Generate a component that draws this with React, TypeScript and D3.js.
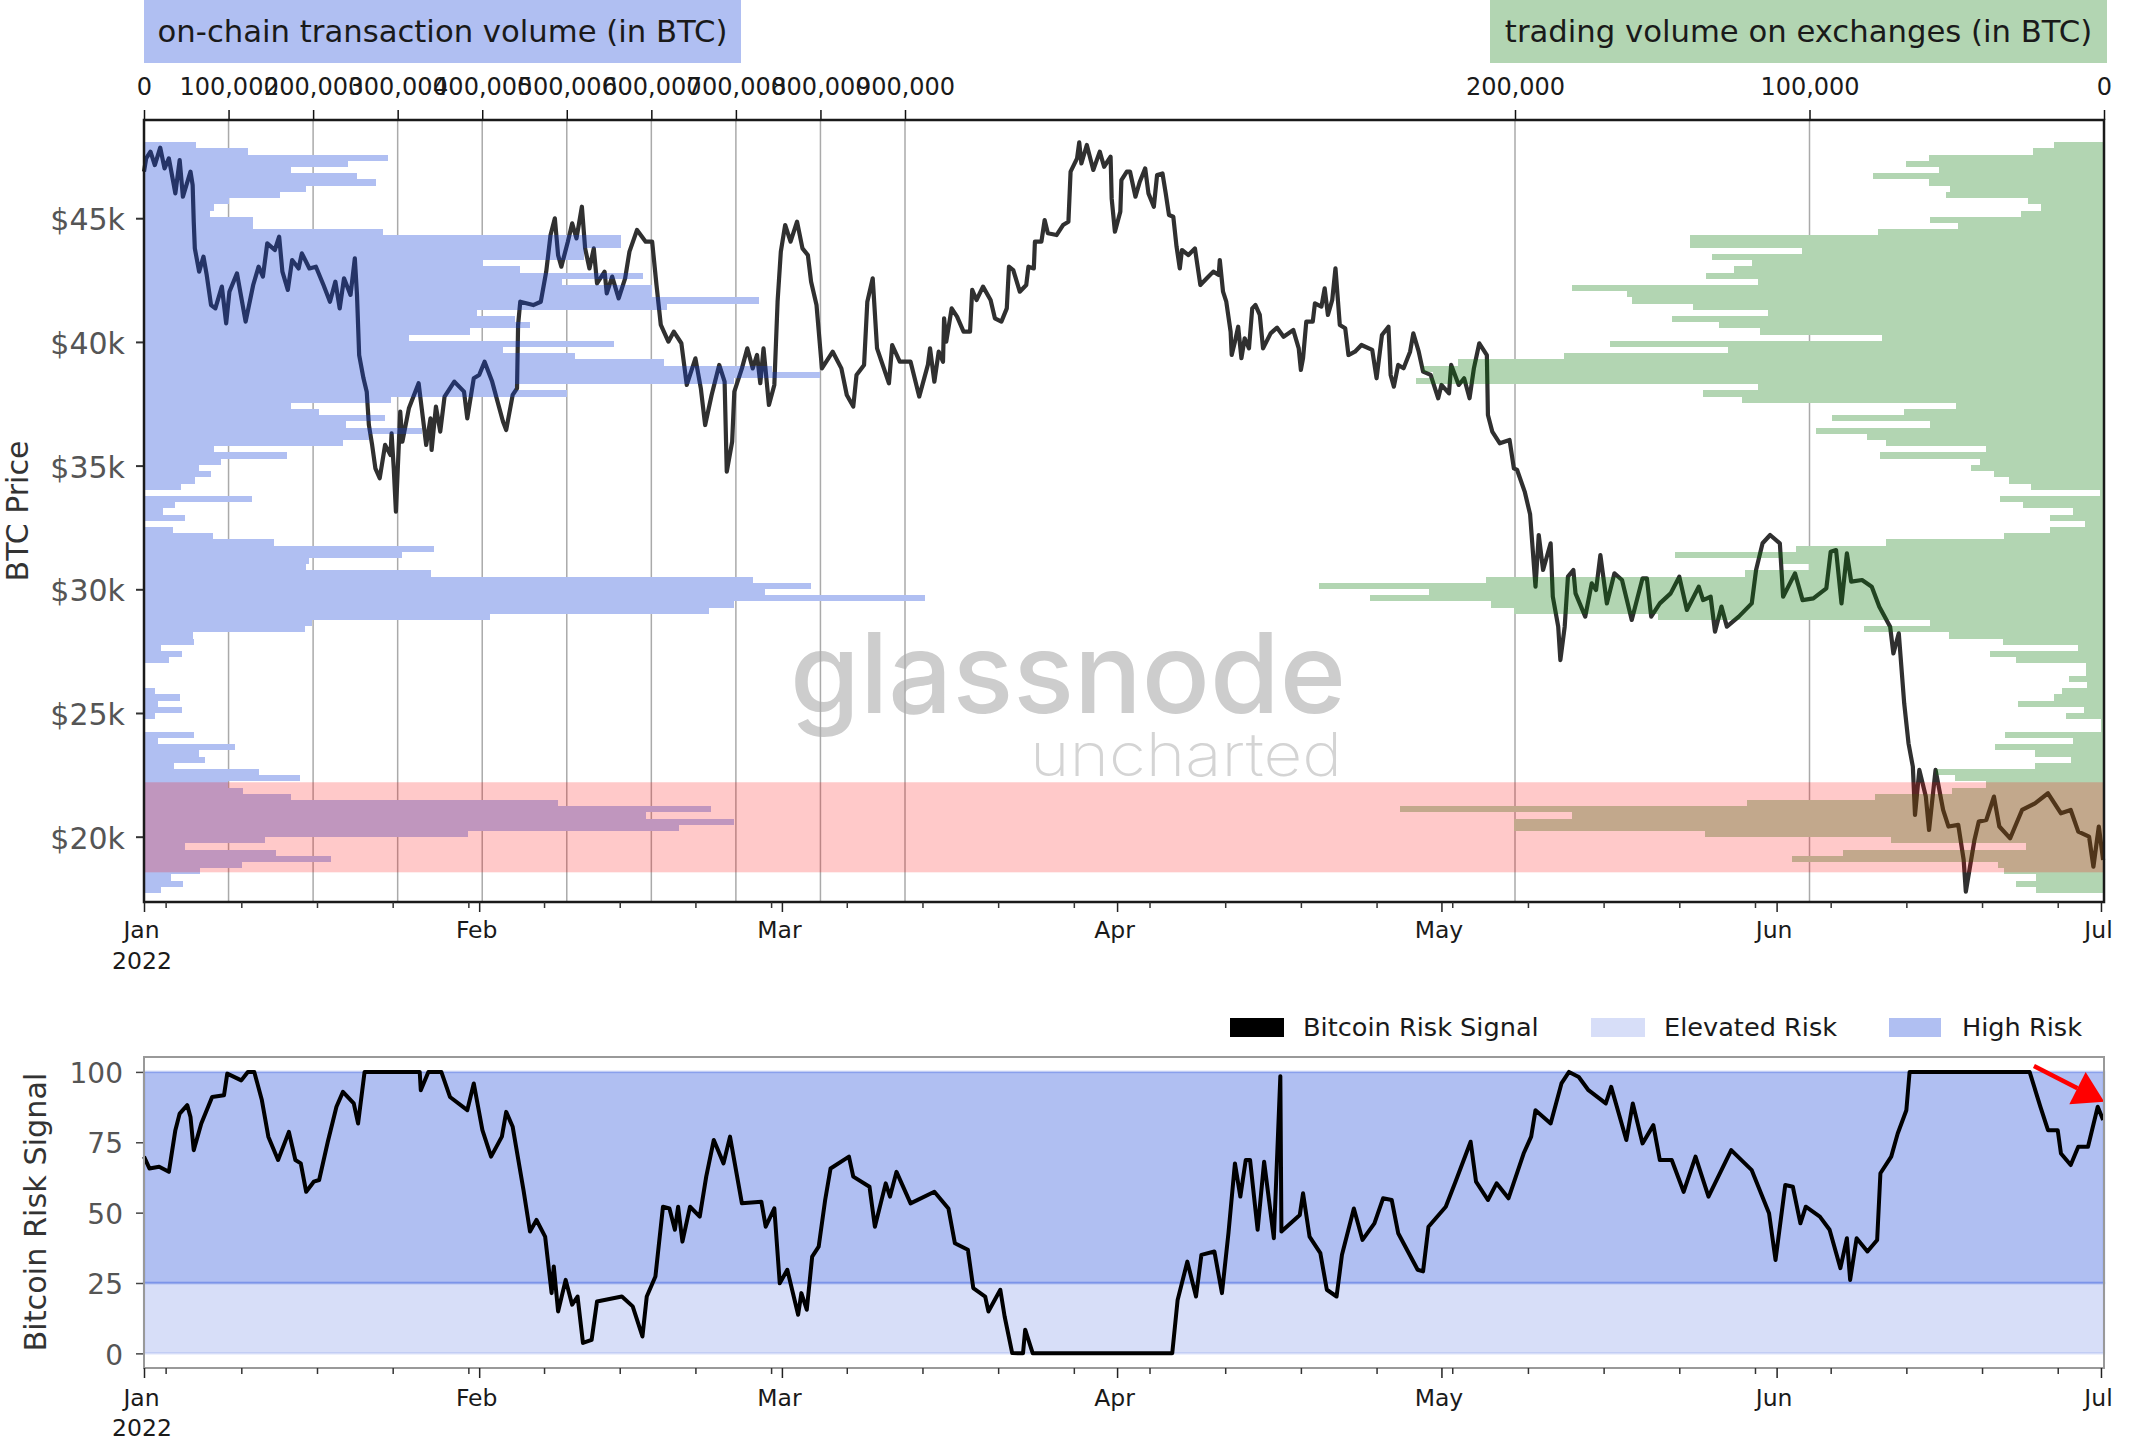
import * as d3 from "d3";
import React, { useEffect, useRef } from "react";

// volume profile bins, read top to bottom
const onChainVolume = [
  61500, 123000, 288800, 241200, 173700, 251500, 273800, 191800, 160400, 100100,
  82600, 77800, 129000, 129000, 282200, 563800, 563800, 519800, 519800, 400400,
  444400, 590300, 494500, 601200, 601200, 727800, 618100, 394400, 438400, 456500,
  385900, 313000, 556000, 424500, 509500, 614500, 742900, 799000, 697700, 438400,
  499900, 291900, 173700, 207400, 284600, 238800, 328600, 266500, 235200, 82600,
  168800, 90500, 65100, 79600, 60300, 43400, 1200, 127800, 36200, 22300,
  48200, 800, 34400, 81400, 153800, 343100, 305700, 195400, 191200, 338900,
  720600, 788700, 734500, 923800, 697700, 668700, 408800, 198400, 190500, 58500,
  59700, 20500, 44600, 29500, 1200, 1200, 1200, 1200, 13300, 42200,
  16300, 44600, 13300, 800, 800, 59700, 16300, 107900, 64500, 72400,
  35600, 136300, 184500, 98900, 117000, 173700, 489600, 670500, 593400, 697700,
  633200, 382900, 142900, 48200, 156200, 221300, 116400, 66300, 31400, 46400,
  20500,
];

const exchangeVolume = [
  17000, 24000, 59500, 67200, 56100, 78300, 59500, 52300, 53800, 25700,
  21400, 28300, 59000, 49600, 76600, 140600, 140600, 102600, 133200, 119400,
  125500, 135100, 117500, 180700, 162000, 160200, 139400, 114200, 146700, 130700,
  116800, 75500, 167700, 127600, 183300, 219300, 231100, 227900, 233700, 117500,
  136300, 122900, 50200, 67900, 92200, 59000, 97700, 80400, 74000, 40100,
  75900, 42200, 45100, 37300, 32300, 24800, 1400, 35200, 27400, 10600,
  18200, 6600, 18200, 33900, 74000, 104700, 145800, 109500, 100300, 122000,
  209700, 266500, 229300, 249300, 208000, 200200, 151600, 59000, 81600, 52600,
  34400, 8900, 38700, 30000, 6100, 6100, 11800, 5700, 14100, 17000,
  29200, 6900, 13000, 900, 900, 33500, 10600, 37000, 23400, 11300,
  23400, 56900, 50500, 40100, 51700, 77800, 121200, 239200, 180700, 200200,
  200200, 135600, 72200, 26600, 88500, 106100, 36100, 33900, 23100, 30000,
  23100,
];

const binTop = 48070;
const binSize = 250.8;

// days since 2022-01-01
const priceDays = [
  0, 0.2, 0.6, 1, 1.5, 1.9, 2.3, 2.7, 2.9, 3.3, 3.6, 4.3, 4.5, 4.6, 4.7, 5.1, 5.5, 5.8, 6.2, 6.6,
  7.2, 7.6, 7.9, 8.6, 9.4, 10.1, 10.6, 11, 11.4, 12.1, 12.5, 12.8, 13.3, 13.7, 14.3, 14.6, 15.3, 15.9, 16.6, 17.2,
  17.7, 18.1, 18.5, 19.1, 19.5, 19.7, 19.9, 20.3, 20.6, 20.8, 21.1, 21.4, 21.8, 22.3, 22.8, 22.9, 23.1, 23.3, 23.7, 23.9,
  24.5, 25.4, 25.8, 26.1, 26.5, 26.6, 27, 27.4, 27.8, 28.7, 29.6, 29.9, 30.5, 31, 31.5, 32.2, 32.7, 33.2, 33.5, 34.1,
  34.5, 34.6, 34.8, 36, 36.7, 37.2, 37.6, 38, 38.3, 38.6, 39.2, 39.6, 40, 40.5, 40.8, 41.2, 41.6, 41.9, 42.6, 42.8,
  43.3, 43.9, 44.5, 44.9, 45.6, 46.4, 47, 47.4, 47.8, 48.5, 49, 49.7, 50.2, 51, 51.5, 51.9, 52.5, 53.2, 53.7, 53.9,
  54.4, 54.6, 55.3, 55.8, 56.3, 56.7, 57, 57.3, 57.8, 58.3, 58.6, 58.9, 59.3, 59.8, 60.4, 60.9, 61.4, 61.7, 62.2, 62.7,
  63.7, 64.5, 65, 65.6, 65.9, 66.6, 66.9, 67.4, 67.8, 68.9, 69.2, 69.9, 70.9, 71.7, 72.5, 72.7, 73.1, 73.5, 73.9, 74,
  74.2, 74.7, 75.2, 75.8, 76.4, 76.6, 77, 77.6, 78.3, 78.7, 79.3, 79.8, 80, 80.4, 81, 81.6, 81.8, 82.3, 82.4, 83,
  83.3, 83.6, 84.4, 85, 85.5, 85.7, 86.3, 86.5, 86.7, 87.2, 87.8, 88.4, 88.8, 89.4, 89.5, 89.8, 90.3, 90.4, 90.9, 91.2,
  91.7, 92.1, 92.6, 92.9, 93.4, 93.7, 94.2, 94.5, 94.8, 95.2, 95.5, 95.8, 96, 96.6, 97.2, 97.7, 98.3, 98.9, 99.4, 99.5,
  99.8, 100.1, 100.5, 100.6, 100.9, 101.2, 101.5, 101.8, 102.2, 102.5, 102.8, 103.2, 103.5, 104.2, 104.8, 105.4, 106.3, 106.8, 107, 107.2,
  107.5, 108.1, 108.3, 108.9, 109.2, 109.5, 109.9, 110.2, 110.6, 111.1, 111.4, 112, 112.6, 113.6, 114, 114.5, 115.1, 115.3, 115.6, 116,
  116.5, 117.1, 117.4, 117.9, 118.3, 119, 119.7, 120, 120.7, 120.9, 121.6, 122.1, 122.6, 123, 123.5, 124.2, 124.3, 124.7, 125.4, 126.3,
  126.7, 127, 127.7, 128.2, 128.4, 128.7, 129, 129.4, 130.1, 130.3, 130.8, 131, 131.4, 131.7, 132.2, 132.4, 133.3, 133.9, 134.3, 134.7,
  135.3, 136, 136.7, 137.6, 138.6, 139, 139.4, 140.2, 141.2, 142, 142.7, 143.8, 144.2, 144.9, 145.3, 145.9, 146.4, 147.5, 148.7, 149.1,
  149.7, 150.4, 151.3, 151.6, 152.7, 153.4, 154.4, 155.6, 156, 156.5, 157, 157.5, 157.9, 158.9, 159.8, 160.5, 161.5, 161.8, 162.3, 162.8,
  163.2, 163.6, 163.8, 164.2, 164.8, 165.1, 165.7, 166.4, 166.9, 167.8, 168.3, 168.5, 169.3, 169.7, 170.4, 171.1, 171.6, 172.6, 173.7, 174.9,
  176.1, 177.3, 178.2, 178.9, 179.9, 180.3, 180.8, 181.2,
];

const priceValues = [
  46880, 47420, 47690, 47150, 47850, 47015, 47420, 46480, 46005, 47350, 45870, 46880, 46340, 44860, 43780, 42840, 43445, 42705, 41490, 41355,
  42235, 40750, 42030, 42770, 40820, 42300, 43040, 42640, 43985, 43715, 44255, 42840, 42100, 43310, 42970, 43580, 42970, 43040, 42300, 41625,
  42435, 41355, 42570, 41900, 43380, 41900, 39470, 38530, 37990, 36640, 35835, 34890, 34490, 35835, 35430, 36305, 34890, 33140, 37180, 35970,
  37315, 38330, 36910, 35835, 36910, 35630, 37385, 36375, 37790, 38395, 37990, 36910, 38530, 38665, 39200, 38395, 37585, 36780, 36440, 37855,
  38125, 40685, 41625, 41490, 41625, 42840, 44320, 44995, 43510, 43040, 44050, 44790, 44185, 45465, 43780, 42970, 43780, 42370, 42840, 41965,
  42640, 41760, 42570, 43650, 44525, 44050, 44050, 42300, 40685, 40010, 40415, 39945, 38260, 39335, 38125, 36640, 37855, 39070, 38395, 34755,
  35970, 37990, 38930, 39740, 38930, 39470, 38330, 39740, 37450, 38260, 41625, 43650, 44725, 44050, 44860, 43780, 43510, 42435, 41490, 38930,
  39605, 38930, 37855, 37385, 38665, 39070, 41625, 42570, 39740, 38330, 39875, 39200, 39200, 37790, 39070, 39740, 38395, 39605, 39200, 40955,
  40010, 41355, 41020, 40415, 40415, 42100, 41695, 42235, 41695, 40955, 40820, 41355, 43040, 42905, 42030, 42300, 43040, 42970, 44050, 44050,
  44925, 44390, 44320, 44725, 44860, 46880, 47420, 48065, 47215, 47960, 46950, 47690, 47080, 47485, 45800, 44455, 45265, 46540, 46880, 46880,
  45870, 46475, 47015, 46005, 45465, 46745, 46810, 46005, 45130, 45060, 43850, 42970, 43715, 43510, 43780, 42300, 42570, 42840, 42705, 43310,
  42030, 41625, 40415, 39470, 40010, 40615, 39340, 40145, 39740, 41355, 41490, 41090, 39740, 40345, 40575, 40210, 40480, 39740, 38865, 39340,
  40820, 40820, 41560, 41425, 42165, 41090, 41695, 42975, 40685, 40550, 39470, 39605, 39875, 39675, 38530, 40280, 40615, 38665, 38190, 39070,
  38935, 39605, 40345, 39605, 38800, 38665, 37720, 38260, 37920, 39070, 38260, 38530, 37720, 38930, 39945, 39470, 37045, 36375, 35900, 36035,
  34890, 34825, 33950, 33030, 31860, 30105, 32195, 30780, 31860, 29700, 28490, 27140, 28490, 30510, 30780, 29835, 28895, 30240, 29970, 31385,
  29430, 30645, 30375, 28760, 30445, 30445, 28895, 29430, 29835, 30510, 29165, 30105, 29565, 29700, 28290, 29300, 28490, 28895, 29430, 30780,
  31860, 32195, 31860, 29700, 30645, 29565, 29635, 30040, 31520, 31585, 29430, 31450, 30310, 30375, 30105, 29295, 28490, 27410, 28220, 25390,
  23775, 22830, 20880, 22700, 21620, 20270, 22700, 21080, 20410, 20475, 19060, 17780, 19870, 20610, 20680, 21620, 20410, 19935, 21080, 21350,
  21755, 20945, 21080, 20205, 20000, 18790, 20410, 19060,
];

const riskDays = [
  0, 0.5, 1.4, 2.3, 2.9, 3.3, 4, 4.3, 4.6, 5.3, 6.3, 7.4, 7.7, 9, 9.6, 10.2, 10.9, 11.5, 12.4, 13.4,
  14, 14.5, 15, 15.7, 16.2, 17, 17.8, 18.4, 19.4, 19.8, 20.4, 25.5, 25.6, 26.3, 27.5, 28.3, 29.9, 30.5, 31.3, 32.1,
  33.1, 33.5, 34.1, 35.1, 35.7, 36.3, 37.1, 37.7, 37.9, 38.3, 39, 39.6, 40.1, 40.6, 41.4, 41.9, 44.2, 45.2, 46.1, 46.5,
  47.3, 48, 48.6, 49.1, 49.4, 49.8, 50.5, 51.4, 52, 52.7, 53.6, 54.2, 55.3, 57.1, 57.5, 58.3, 58.8, 59.5, 60.5, 60.8,
  61.3, 61.8, 62.4, 63, 63.5, 65.2, 65.6, 67.1, 67.6, 68.6, 69, 69.6, 70.9, 73.1, 74.4, 75, 76.2, 76.7, 77.8, 78.1,
  79.2, 79.6, 80.3, 81.3, 81.5, 82.2, 95.1, 95.6, 96.5, 97.3, 97.8, 99, 99.7, 100.3, 100.9, 101.4, 101.9, 102.3, 103, 103.6,
  104.5, 105.1, 105.2, 106.9, 107.2, 107.8, 108.8, 109.4, 110.3, 110.8, 111.9, 112.7, 113.8, 114.6, 115.4, 116, 117.8, 118.3, 118.8, 120.4,
  121.3, 122.7, 123.2, 124.3, 125.1, 126.2, 127.6, 128.3, 128.7, 130.1, 131.1, 131.8, 132.7, 133.6, 135.2, 135.7, 137.1, 137.7, 138.6, 139.6,
  140.2, 141.3, 142.4, 143.5, 144.7, 146.8, 148.7, 150.3, 150.9, 151.8, 152.5, 153.2, 153.7, 155, 155.9, 156.9, 157.5, 157.8, 158.4, 159.4,
  160.3, 160.6, 161.6, 162.2, 163, 163.3, 174.4, 175.4, 176.1, 177, 177.3, 178.2, 178.9, 179.8, 180.7, 181.2,
];

const riskValues = [
  69.9, 65.7, 66.3, 64.5, 79.3, 85.2, 88.2, 84, 72.2, 81.7, 91.1, 91.7, 99.4, 97, 100, 100, 90, 77, 68.7, 78.7,
  68.7, 67.5, 57.4, 61, 61.6, 75.2, 87.6, 92.9, 88.8, 81.7, 100, 100, 93.5, 100, 100, 91.1, 86.4, 95.9, 79.3, 69.9,
  77, 85.8, 80.5, 58, 43.3, 47.4, 41.5, 21.4, 30.9, 14.9, 26.1, 17.3, 20.2, 3.7, 4.8, 18.4, 20.2, 16.7, 6, 20.2,
  27.3, 52.1, 51.5, 43.9, 52.1, 39.7, 52.1, 48.6, 62.8, 75.8, 67.5, 77, 53.3, 53.9, 45, 51.5, 24.9, 29.7, 13.7, 21.4,
  15.5, 34.4, 37.9, 54.5, 65.7, 69.9, 62.8, 59.2, 45, 60.4, 55.7, 64.5, 53.3, 57.4, 51.5, 39.1, 36.8, 23.2, 20.2, 14.9,
  22.6, 13.1, 0.1, 0, 8.4, 0, 0, 19, 32.6, 20.2, 35, 36.2, 21.4, 42.7, 67.5, 55.7, 68.7, 68.7, 43.9, 68.1,
  40.9, 98.5, 43.3, 49.2, 56.9, 41.5, 35.6, 22.6, 20.2, 35, 51.5, 40.3, 46.2, 55.1, 54.5, 42.7, 29.7, 29.1, 45, 52.1,
  61, 75.2, 61, 54.5, 60.4, 55.1, 71, 77, 86.4, 81.7, 95.9, 100, 98.2, 93.5, 88.8, 94.7, 75.8, 88.8, 74.6, 81.1,
  68.7, 68.7, 57.4, 69.9, 55.7, 72.2, 65.1, 49.8, 33.2, 59.8, 59.2, 46.2, 52.1, 48.6, 43.9, 30.3, 40.9, 26.1, 40.9, 36.2,
  40.3, 64, 69.9, 78.1, 86.4, 100, 100, 87.6, 79.3, 79.3, 71, 66.9, 73.4, 73.4, 87.6, 82.9,
];

const onChainTicks = [0, 100000, 200000, 300000, 400000, 500000, 600000, 700000, 800000, 900000];
const exchangeTicks = [0, 100000, 200000];
const priceTicks = [20000, 25000, 30000, 35000, 40000, 45000];
const riskTicks = [0, 25, 50, 75, 100];
const lowBand = [18560, 22200];
const legendItems = ["Bitcoin Risk Signal", "Elevated Risk", "High Risk"];

const FONT = "'DejaVu Sans', sans-serif";
const BLUE = "rgb(15,60,215)";
const GREEN = "rgb(0,115,0)";

const dayToDate = (d: number) => new Date(Date.UTC(2022, 0, 1) + d * 864e5);

const App: React.FC = () => {
  const svgRef = useRef<SVGSVGElement>(null);

  useEffect(() => {
    if (!svgRef.current) return;
    const svg = d3.select(svgRef.current);
    svg.selectAll("*").remove();
    svg.style("font-family", FONT);

    const left = 144, right = 2104;
    const top = 120, bottom = 902;
    const riskTop = 1057, riskBottom = 1368;

    const x = d3.scaleUtc().domain([dayToDate(0), dayToDate(181.28)]).range([left, right]);
    const y = d3.scaleLinear().domain([17360, 48970]).range([bottom, top]);
    const xChain = d3.scaleLinear().domain([0, 900000]).range([left, 905]);
    const xExch = d3.scaleLinear().domain([0, 200000]).range([right, 1515]);
    const yRisk = d3.scaleLinear().domain([-5.2, 105.3]).range([riskBottom, riskTop]);

    // header boxes
    const headers = [
      { x0: left, x1: 741, fill: BLUE, op: 0.33, label: "on-chain transaction volume (in BTC)" },
      { x0: 1490, x1: 2107, fill: GREEN, op: 0.3, label: "trading volume on exchanges (in BTC)" },
    ];
    headers.forEach((h) => {
      svg.append("rect").attr("x", h.x0).attr("y", 0).attr("width", h.x1 - h.x0).attr("height", 63)
        .attr("fill", h.fill).attr("fill-opacity", h.op);
      svg.append("text").attr("x", (h.x0 + h.x1) / 2).attr("y", 31).attr("dy", "0.35em")
        .attr("text-anchor", "middle").style("font-size", "30.7px").attr("fill", "#1a1a1a").text(h.label);
    });

    // watermark
    svg.append("text").attr("x", 790).attr("y", 713).attr("textLength", 556).attr("lengthAdjust", "spacingAndGlyphs")
      .style("font-family", "Inter, sans-serif").style("font-size", "112px").style("font-weight", 500)
      .attr("fill", "#cdcdcd").text("glassnode");
    svg.append("text").attr("x", 1030).attr("y", 776).attr("textLength", 312).attr("lengthAdjust", "spacingAndGlyphs")
      .style("font-family", "Inter, sans-serif").style("font-size", "60px").style("font-weight", 200)
      .attr("fill", "#d4d4d4").text("uncharted");

    // vertical gridlines from both volume axes
    const grid = svg.append("g").attr("stroke", "#aaaaaa").attr("stroke-width", 1.5);
    onChainTicks.slice(1).forEach((t) => {
      grid.append("line").attr("x1", xChain(t)).attr("x2", xChain(t)).attr("y1", top).attr("y2", bottom);
    });
    exchangeTicks.slice(1).forEach((t) => {
      grid.append("line").attr("x1", xExch(t)).attr("x2", xExch(t)).attr("y1", top).attr("y2", bottom);
    });

    const binY = (i: number) => y(binTop - i * binSize);
    const drawBars = (data: number[], x0: (d: number) => number, x1: (d: number) => number, fill: string, op: number) => {
      svg.append("g").attr("shape-rendering", "crispEdges").selectAll("rect").data(data).enter().append("rect")
        .attr("x", x0).attr("y", (_, i) => binY(i))
        .attr("width", (d) => x1(d) - x0(d))
        .attr("height", (_, i) => binY(i + 1) - binY(i))
        .attr("fill", fill).attr("fill-opacity", op);
    };

    // white masks hide the gridlines behind the bars
    drawBars(onChainVolume, () => left, (d) => xChain(d), "#fff", 1);
    drawBars(exchangeVolume, (d) => xExch(d), () => right, "#fff", 1);

    // price line sits under the translucent bars
    const priceLine = d3.line<number>()
      .x((_, i) => x(dayToDate(priceDays[i])))
      .y((d) => y(d));
    svg.append("path").datum(priceValues).attr("d", priceLine).attr("fill", "none")
      .attr("stroke", "#303030").attr("stroke-width", 4.2).attr("stroke-linejoin", "round");

    drawBars(onChainVolume, () => left, (d) => xChain(d), BLUE, 0.33);
    drawBars(exchangeVolume, (d) => xExch(d), () => right, GREEN, 0.3);

    // low price band on top of the bars
    svg.append("rect").attr("x", left).attr("width", right - left)
      .attr("y", y(lowBand[1])).attr("height", y(lowBand[0]) - y(lowBand[1]))
      .attr("fill", "red").attr("fill-opacity", 0.21);

    // top axes
    const topChain = svg.append("g").attr("transform", `translate(0,${top})`)
      .call(d3.axisTop(xChain).tickValues(onChainTicks).tickFormat((d) => d3.format(",")(d as number)).tickSize(10).tickPadding(15));
    const topExch = svg.append("g").attr("transform", `translate(0,${top})`)
      .call(d3.axisTop(xExch).tickValues(exchangeTicks).tickFormat((d) => d3.format(",")(d as number)).tickSize(10).tickPadding(15));
    [topChain, topExch].forEach((a) => {
      a.select(".domain").remove();
      a.selectAll("line").attr("stroke", "#111").attr("stroke-width", 1.5);
      a.selectAll("text").style("font-family", FONT).style("font-size", "24px").attr("fill", "#1a1a1a");
    });

    // y axis price
    const yAxis = svg.append("g").attr("transform", `translate(${left},0)`)
      .call(d3.axisLeft(y).tickValues(priceTicks).tickFormat((d) => `$${(d as number) / 1000}k`).tickSize(8).tickPadding(11));
    yAxis.select(".domain").remove();
    yAxis.selectAll("line").attr("stroke", "#333").attr("stroke-width", 2);
    yAxis.selectAll("text").style("font-family", FONT).style("font-size", "30px").attr("fill", "#555").attr("dy", "0.38em");
    svg.append("text").attr("transform", "translate(17,511) rotate(-90)").attr("dy", "0.35em").attr("text-anchor", "middle")
      .style("font-size", "30px").attr("fill", "#333").text("BTC Price");

    // price frame
    svg.append("rect").attr("x", left).attr("y", top).attr("width", right - left).attr("height", bottom - top)
      .attr("fill", "none").attr("stroke", "#1a1a1a").attr("stroke-width", 2.5);

    const timeAxis = (yPos: number, padding: number, yearOffset: number) => {
      const months = d3.utcMonth.range(dayToDate(0), dayToDate(182));
      const mondays = d3.utcMonday.range(dayToDate(0), dayToDate(181.5));
      const minor = svg.append("g").attr("transform", `translate(0,${yPos})`)
        .call(d3.axisBottom(x).tickValues(mondays).tickFormat(() => "").tickSize(6));
      minor.select(".domain").remove();
      minor.selectAll("line").attr("stroke", "#333").attr("stroke-width", 1.5);
      const major = svg.append("g").attr("transform", `translate(0,${yPos})`)
        .call(d3.axisBottom(x).tickValues(months).tickFormat((d) => d3.utcFormat("%b")(d as Date)).tickSize(10).tickPadding(padding));
      major.select(".domain").remove();
      major.selectAll("line").attr("stroke", "#222").attr("stroke-width", 1.5);
      major.selectAll("text").style("font-family", FONT).style("font-size", "23.5px").attr("fill", "#1a1a1a").attr("dx", -3);
      svg.append("text").attr("x", left - 2).attr("y", yPos + yearOffset).attr("dy", "0.35em").attr("text-anchor", "middle")
        .style("font-size", "23.5px").attr("fill", "#1a1a1a").text("2022");
    };
    timeAxis(bottom, 9, 59);

    // risk panel
    const bands = [
      { lo: 25, hi: 100, op: 0.33 },
      { lo: 0, hi: 25, op: 0.167 },
    ];
    bands.forEach((b) => {
      svg.append("rect").attr("x", left).attr("width", right - left)
        .attr("y", yRisk(b.hi)).attr("height", yRisk(b.lo) - yRisk(b.hi))
        .attr("fill", BLUE).attr("fill-opacity", b.op)
        .attr("stroke", BLUE).attr("stroke-opacity", b.op * 0.7).attr("stroke-width", 2.5);
    });

    const riskLine = d3.line<number>()
      .x((_, i) => x(dayToDate(riskDays[i])))
      .y((d) => yRisk(d));
    svg.append("path").datum(riskValues).attr("d", riskLine).attr("fill", "none")
      .attr("stroke", "#000").attr("stroke-width", 4).attr("stroke-linejoin", "round");

    // red arrow
    const ax0 = x(dayToDate(174.8)), ay0 = yRisk(102.1);
    const ax1 = x(dayToDate(181.3)), ay1 = yRisk(89.4);
    const len = Math.hypot(ax1 - ax0, ay1 - ay0);
    const ux = (ax1 - ax0) / len, uy = (ay1 - ay0) / len;
    const headLen = 30, headW = 18;
    const bx = ax1 - ux * headLen, by = ay1 - uy * headLen;
    svg.append("line").attr("x1", ax0).attr("y1", ay0).attr("x2", bx).attr("y2", by)
      .attr("stroke", "red").attr("stroke-width", 4.5);
    svg.append("path").attr("fill", "red")
      .attr("d", d3.line()([[ax1, ay1], [bx - uy * headW, by + ux * headW], [bx + uy * headW, by - ux * headW]]) + "Z");

    const yRiskAxis = svg.append("g").attr("transform", `translate(${left},0)`)
      .call(d3.axisLeft(yRisk).tickValues(riskTicks).tickSize(8).tickPadding(13));
    yRiskAxis.select(".domain").remove();
    yRiskAxis.selectAll("line").attr("stroke", "#444").attr("stroke-width", 1.5);
    yRiskAxis.selectAll("text").style("font-family", FONT).style("font-size", "28px").attr("fill", "#555").attr("dy", "0.38em");
    svg.append("text").attr("transform", "translate(35,1212) rotate(-90)").attr("dy", "0.35em").attr("text-anchor", "middle")
      .style("font-size", "30.3px").attr("fill", "#333").text("Bitcoin Risk Signal");

    svg.append("rect").attr("x", left).attr("y", riskTop).attr("width", right - left).attr("height", riskBottom - riskTop)
      .attr("fill", "none").attr("stroke", "#999").attr("stroke-width", 2);
    timeAxis(riskBottom, 11, 60);

    // legend
    const legendX = [
      { x0: 1230, x1: 1284, tx: 1303, fill: "#000", op: 1 },
      { x0: 1591, x1: 1645, tx: 1664, fill: BLUE, op: 0.167 },
      { x0: 1889, x1: 1941, tx: 1962, fill: BLUE, op: 0.33 },
    ];
    legendItems.forEach((label, i) => {
      const l = legendX[i];
      svg.append("rect").attr("x", l.x0).attr("y", 1018).attr("width", l.x1 - l.x0).attr("height", 19)
        .attr("fill", l.fill).attr("fill-opacity", l.op);
      svg.append("text").attr("x", l.tx).attr("y", 1027).attr("dy", "0.35em")
        .style("font-size", "25.6px").attr("fill", "#1a1a1a").text(label);
    });
  }, []);

  return <svg ref={svgRef} width={2129} height={1455} style={{ position: "absolute", left: 0, top: 0, background: "#fff" }} />;
};

export default App;
